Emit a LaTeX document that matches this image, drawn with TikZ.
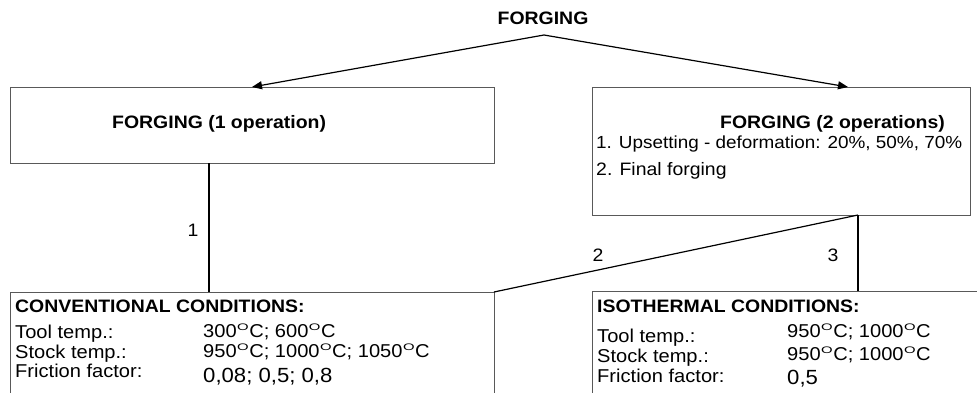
\documentclass[tikz,border=0pt]{standalone}
\usepackage{fontspec}
\setmainfont[FakeStretch=1.08]{Liberation Sans}
\usetikzlibrary{arrows.meta}
\newcommand\dg{\kern0.5pt\raisebox{0.36em}{\scalebox{1.45}[1]{\fontsize{9.5}{9.5}\selectfont O}}\kern0.5pt}
\tikzset{
  boxs/.style={draw=black!65, line width=1pt, inner sep=0pt, anchor=north west},
  txt/.style={inner sep=0pt, anchor=base west, font=\fontsize{18}{20}\selectfont},
  ltxt/.style={txt, font=\fontsize{18.6}{20}\selectfont},
  vtxt/.style={txt, font=\fontsize{20.5}{22}\selectfont},
  btxt/.style={txt, font=\fontsize{18}{20}\selectfont\bfseries},
  conn/.style={draw=black, line width=1.2pt},
  arr/.style={conn, -{Triangle[length=10pt,width=8pt]}},
  numlab/.style={inner sep=0pt, font=\fontsize{18}{20}\selectfont},
}
\begin{document}
\begin{tikzpicture}[x=1pt,y=-1pt]
\useasboundingbox (0,0) rectangle (977,392);
\clip (0,0) rectangle (977,392);
% title
\node[inner sep=0pt, font=\fontsize{18}{20}\selectfont\bfseries] (title) at (543,18.5) {FORGING};
\coordinate (apex) at (544,35);
% boxes
\node[boxs, minimum width=484pt, minimum height=76pt] (b1) at (10,87) {};
\node[boxs, minimum width=378pt, minimum height=128pt] (b2) at (592,87) {};
\node[boxs, minimum width=484pt, minimum height=140pt] (b3) at (10,292) {};
\node[boxs, minimum width=400pt, minimum height=140pt] (b4) at (592,291) {};
% box texts
\node[btxt] (t1) at (112,128) {FORGING (1 operation)};
\node[btxt] (t2) at (720,128) {FORGING (2 operations)};
\node[txt, font=\fontsize{17.5}{20}\selectfont] (t2a) at (596,148) {1. Upsetting - deformation: 20\%, 50\%, 70\%};
\node[txt] (t2b) at (596,175) {2. Final forging};
% conventional
\node[btxt] (c0) at (15,312) {CONVENTIONAL CONDITIONS:};
\node[ltxt] (c1) at (15,338) {Tool temp.:};
\node[ltxt] (c2) at (15,358) {Stock temp.:};
\node[ltxt] (c3) at (15,377) {Friction factor:};
\node[ltxt] (c1v) at (203,337) {300\dg C; 600\dg C};
\node[ltxt] (c2v) at (203,357) {950\dg C; 1000\dg C; 1050\dg C};
\node[vtxt] (c3v) at (203,382) {0,08; 0,5; 0,8};
% isothermal
\node[btxt] (i0) at (597,312) {ISOTHERMAL CONDITIONS:};
\node[ltxt] (i1) at (597,342) {Tool temp.:};
\node[ltxt] (i2) at (597,362) {Stock temp.:};
\node[ltxt] (i3) at (597,382) {Friction factor:};
\node[ltxt] (i1v) at (787,337) {950\dg C; 1000\dg C};
\node[ltxt] (i2v) at (787,360) {950\dg C; 1000\dg C};
\node[vtxt] (i3v) at (787,384) {0,5};
% connector end points
\coordinate (a1) at (252,87);
\coordinate (a2) at (848,87);
\coordinate (l1top) at (209,163);
\coordinate (l1bot) at (209,292);
\coordinate (apex2) at (858,215);
\coordinate (l2end) at (494,292);
\coordinate (l3end) at (858,291);
% connectors
\draw[arr] (apex) -- (a1);
\draw[arr] (apex) -- (a2);
\draw[conn] (l1top) -- (l1bot);
\draw[conn] (apex2) -- (l2end);
\draw[conn] (apex2) -- (l3end);
% labels
\node[numlab] (n1) at (193,230) {1};
\node[numlab] (n2) at (598,255) {2};
\node[numlab] (n3) at (833,255) {3};
\end{tikzpicture}
\end{document}
